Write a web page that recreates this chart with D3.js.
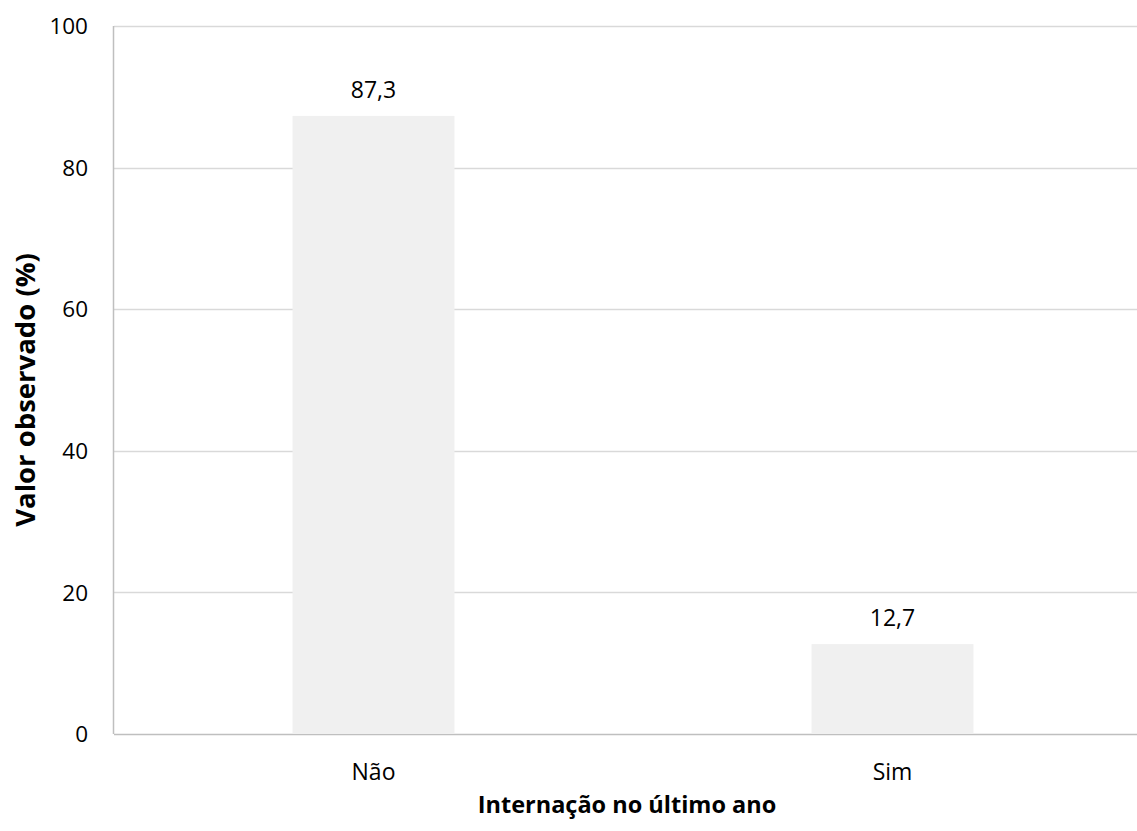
<!DOCTYPE html>
<html>
<head>
<meta charset="utf-8">
<script src="https://cdn.jsdelivr.net/npm/d3@7"></script>
<style>
  body { margin: 0; background: #fff; }
  text { font-family: "Open Sans", sans-serif; fill: #000; }
</style>
</head>
<body>
<svg id="chart"></svg>
<script>
var width = 1137;
var height = 831;

// data
var categories = ["Não", "Sim"];
var values = [87.3, 12.7];
var yTicks = [0, 20, 40, 60, 80, 100];

var svg = d3.select("#chart")
    .attr("width", width)
    .attr("height", height);

// X scale (plot area runs past the right edge, like the original)
var x = d3.scaleBand()
    .domain(categories)
    .range([114, 1152])
    .paddingInner(0.688)
    .paddingOuter(0.344);

// Y scale
var y = d3.scaleLinear()
    .domain([0, 100])
    .range([734, 26]);

// Gridlines
svg.selectAll(".grid")
    .data(yTicks)
    .enter().append("line")
    .attr("class", "grid")
    .attr("x1", 114)
    .attr("x2", width)
    .attr("y1", function (d) { return Math.round(y(d)) + 0.5; })
    .attr("y2", function (d) { return Math.round(y(d)) + 0.5; })
    .style("stroke", function (d) { return d === 0 ? "#bfbfbf" : "#d9d9d9"; })
    .style("stroke-width", 1.5);

// Left axis line
svg.append("line")
    .attr("x1", 113.5).attr("x2", 113.5)
    .attr("y1", y(100)).attr("y2", y(0))
    .style("stroke", "#bfbfbf")
    .style("stroke-width", 1.5);

// Bars
svg.selectAll(".bar")
    .data(values)
    .enter().append("rect")
    .attr("class", "bar")
    .attr("x", function (d, i) { return x(categories[i]); })
    .attr("y", function (d) { return y(d); })
    .attr("width", x.bandwidth())
    .attr("height", function (d) { return y(0) - y(d); })
    .style("fill", "#f0f0f0");

// Value labels
svg.selectAll(".label")
    .data(values)
    .enter().append("text")
    .attr("class", "label")
    .attr("x", function (d, i) { return x(categories[i]) + x.bandwidth() / 2; })
    .attr("y", function (d) { return y(d) - 18; })
    .attr("text-anchor", "middle")
    .style("font-size", "23px")
    .text(function (d) { return d.toFixed(1).replace(".", ","); });

// Y tick labels
svg.selectAll(".ytick")
    .data(yTicks)
    .enter().append("text")
    .attr("class", "ytick")
    .attr("x", 88)
    .attr("y", function (d) { return y(d); })
    .attr("dy", "0.36em")
    .attr("text-anchor", "end")
    .style("font-size", "22.5px")
    .text(function (d) { return d; });

// X tick labels
svg.selectAll(".xtick")
    .data(categories)
    .enter().append("text")
    .attr("class", "xtick")
    .attr("x", function (d) { return x(d) + x.bandwidth() / 2; })
    .attr("y", 780)
    .attr("text-anchor", "middle")
    .style("font-size", "23px")
    .text(function (d) { return d; });

// Axis titles
svg.append("text")
    .attr("x", 627)
    .attr("y", 813)
    .attr("text-anchor", "middle")
    .style("font-size", "23.5px")
    .style("font-weight", "bold")
    .text("Internação no último ano");

svg.append("text")
    .attr("transform", "translate(35,390) rotate(-90)")
    .attr("text-anchor", "middle")
    .style("font-size", "27.5px")
    .style("font-weight", "bold")
    .text("Valor observado (%)");
</script>
</body>
</html>
